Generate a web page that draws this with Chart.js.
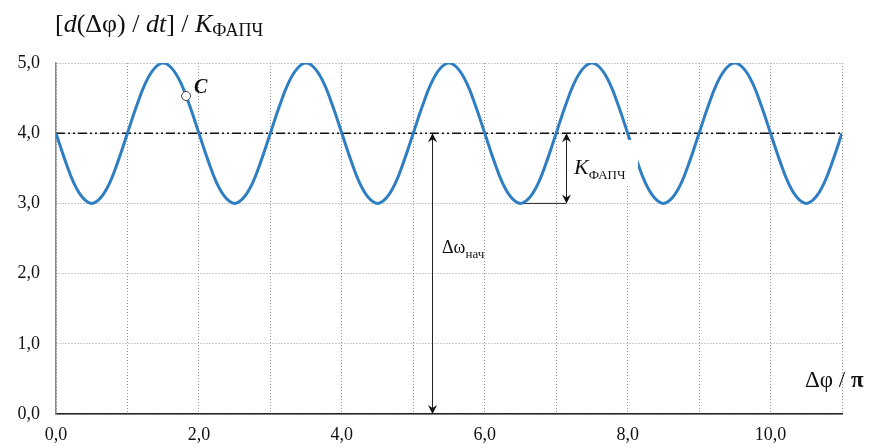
<!DOCTYPE html>
<html>
<head>
<meta charset="utf-8">
<script src="https://cdn.jsdelivr.net/npm/chart.js@4.4.0/dist/chart.umd.min.js"></script>
<style>
  html, body { margin: 0; padding: 0; background: #fff; }
  #wrap { width: 876px; height: 448px; }
</style>
</head>
<body>
<div id="wrap"><canvas id="chart" width="876" height="448"></canvas></div>
<script>
// Δφ/π
const phase = [
  0, 0.125, 0.25, 0.375, 0.5, 0.625, 0.75, 0.875,
  1, 1.125, 1.25, 1.375, 1.5, 1.625, 1.75, 1.875,
  2, 2.125, 2.25, 2.375, 2.5, 2.625, 2.75, 2.875,
  3, 3.125, 3.25, 3.375, 3.5, 3.625, 3.75, 3.875,
  4, 4.125, 4.25, 4.375, 4.5, 4.625, 4.75, 4.875,
  5, 5.125, 5.25, 5.375, 5.5, 5.625, 5.75, 5.875,
  6, 6.125, 6.25, 6.375, 6.5, 6.625, 6.75, 6.875,
  7, 7.125, 7.25, 7.375, 7.5, 7.625, 7.75, 7.875,
  8, 8.125, 8.25, 8.375, 8.5, 8.625, 8.75, 8.875,
  9, 9.125, 9.25, 9.375, 9.5, 9.625, 9.75, 9.875,
  10, 10.125, 10.25, 10.375, 10.5, 10.625, 10.75, 10.875,
  11
];
// [d(Δφ)/dt] / K
const rate = [
  4.00, 3.62, 3.29, 3.08, 3.00, 3.08, 3.29, 3.62,
  4.00, 4.38, 4.71, 4.92, 5.00, 4.92, 4.71, 4.38,
  4.00, 3.62, 3.29, 3.08, 3.00, 3.08, 3.29, 3.62,
  4.00, 4.38, 4.71, 4.92, 5.00, 4.92, 4.71, 4.38,
  4.00, 3.62, 3.29, 3.08, 3.00, 3.08, 3.29, 3.62,
  4.00, 4.38, 4.71, 4.92, 5.00, 4.92, 4.71, 4.38,
  4.00, 3.62, 3.29, 3.08, 3.00, 3.08, 3.29, 3.62,
  4.00, 4.38, 4.71, 4.92, 5.00, 4.92, 4.71, 4.38,
  4.00, 3.62, 3.29, 3.08, 3.00, 3.08, 3.29, 3.62,
  4.00, 4.38, 4.71, 4.92, 5.00, 4.92, 4.71, 4.38,
  4.00, 3.62, 3.29, 3.08, 3.00, 3.08, 3.29, 3.62,
  4.00
];
const startLevel = 4.0;       // Δω нач
const pointC = [1.82, 4.53];
const arrowOmegaX = 5.26;
const arrowKX = 7.14;
const minLineFrom = 6.45;
const xMax = 11;
const yMax = 5;

const serif = "'Liberation Serif', 'DejaVu Serif', serif";
const fmt = v => v.toFixed(1).replace(".", ",");

const decorations = {
  id: "decorations",
  afterDatasetsDraw(chart) {
    const ctx = chart.ctx;
    const xs = chart.scales.x, ys = chart.scales.y;
    const px = v => xs.getPixelForValue(v);
    const py = v => ys.getPixelForValue(v);

    // white text box behind K label (covers curve in original)
    ctx.save();
    ctx.fillStyle = "#fff";
    ctx.fillRect(572, 140, 66, 46);

    // arrows
    ctx.strokeStyle = "#222";
    ctx.fillStyle = "#111";
    ctx.lineWidth = 1;
    function head(x, y, dir) {
      ctx.beginPath();
      ctx.moveTo(x, y);
      ctx.lineTo(x - 4.5, y - dir * 9);
      ctx.lineTo(x, y - dir * 6);
      ctx.lineTo(x + 4.5, y - dir * 9);
      ctx.closePath();
      ctx.fill();
    }
    function vArrow(xv, y0, y1) {
      const x = Math.round(px(xv)) + 0.5;
      ctx.beginPath();
      ctx.moveTo(x, py(y0) + 2);
      ctx.lineTo(x, py(y1) - 2);
      ctx.stroke();
      head(x, py(y0), -1);
      head(x, py(y1), 1);
    }
    vArrow(arrowOmegaX, startLevel, 0);
    vArrow(arrowKX, startLevel, 3);

    // texts
    ctx.fillStyle = "#111";
    ctx.textBaseline = "alphabetic";
    function run(parts, x, y) {
      parts.forEach(p => {
        ctx.font = p[1];
        ctx.fillText(p[0], x, y + (p[2] || 0));
        x += ctx.measureText(p[0]).width;
      });
    }
    run([
      ["[", "26px " + serif],
      ["d", "italic 26px " + serif],
      ["(Δφ) / ", "26px " + serif],
      ["dt", "italic 26px " + serif],
      ["] / ", "26px " + serif],
      ["K", "italic 26px " + serif],
      ["ФАПЧ", "18px " + serif, 4]
    ], 55, 32);

    run([
      ["Δφ / ", "23px " + serif],
      ["π", "bold 23px " + serif]
    ], 805, 387);

    run([
      ["Δω", "18px " + serif],
      ["нач", "13px " + serif, 5]
    ], 442, 253);

    run([
      ["K", "italic 22px " + serif],
      ["ФАПЧ", "13px " + serif, 5]
    ], 574, 174);

    run([["C", "bold italic 20px " + serif]], 194, 93);
    ctx.restore();
  }
};

new Chart(document.getElementById("chart"), {
  type: "line",
  data: {
    datasets: [
      {
        data: phase.map((x, i) => ({ x: x, y: rate[i] })),
        borderColor: "#2E7EC1",
        borderWidth: 3,
        pointRadius: 0,
        tension: 0.4,
        order: 2
      },
      {
        data: [{ x: 0, y: startLevel }, { x: xMax, y: startLevel }],
        borderColor: "#111",
        borderWidth: 1.5,
        borderDash: [9, 3, 2, 3, 2, 3],
        pointRadius: 0,
        order: 3
      },
      {
        data: [{ x: minLineFrom, y: 3 }, { x: arrowKX, y: 3 }],
        borderColor: "#222",
        borderWidth: 1,
        pointRadius: 0,
        order: 3
      },
      {
        data: [{ x: pointC[0], y: pointC[1] }],
        showLine: false,
        pointRadius: 4.5,
        pointBackgroundColor: "#fff",
        pointBorderColor: "#444",
        pointBorderWidth: 1,
        order: 1
      }
    ]
  },
  options: {
    responsive: false,
    animation: false,
    layout: { padding: { top: 63, right: 34, left: 0, bottom: 0 } },
    plugins: { legend: { display: false }, tooltip: { enabled: false } },
    scales: {
      x: {
        type: "linear",
        min: 0,
        max: xMax,
        afterFit: s => { s.height = 34; },
        ticks: {
          stepSize: 1,
          autoSkip: false,
          maxRotation: 0,
          padding: 10,
          color: "#111",
          font: { family: serif, size: 18 },
          callback: v => (v % 2 === 0 ? fmt(v) : "")
        },
        grid: { color: "#999", lineWidth: 1, drawTicks: false },
        border: { color: "#222", width: 1.5, dash: [1, 2] }
      },
      y: {
        min: 0,
        max: yMax,
        afterFit: s => { s.width = 56; },
        ticks: {
          stepSize: 1,
          padding: 16,
          color: "#111",
          font: { family: serif, size: 18 },
          callback: v => fmt(v)
        },
        grid: { color: "#999", lineWidth: 1, drawTicks: false },
        border: { color: "#888", width: 1.5, dash: [1, 2] }
      }
    }
  },
  plugins: [decorations]
});
</script>
</body>
</html>
